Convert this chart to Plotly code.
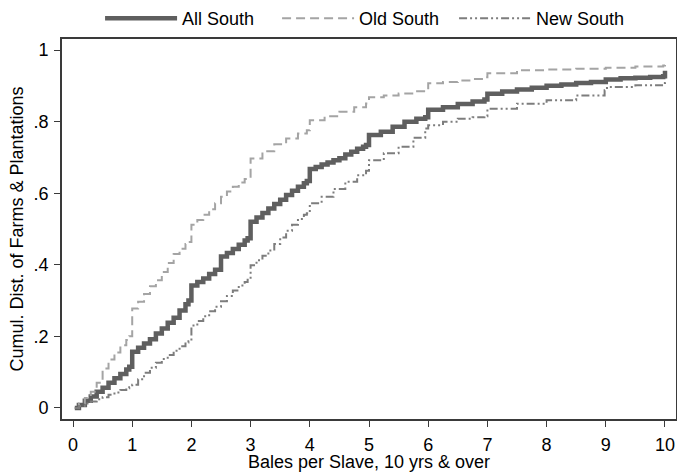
import plotly.graph_objects as go

# ---- data ----
all_x = [0.03, 0.1, 0.2, 0.3, 0.4, 0.5, 0.6, 0.7, 0.8, 0.9, 0.95,
         1.0, 1.1, 1.2, 1.3, 1.4, 1.5, 1.6, 1.7, 1.8, 1.9, 1.95,
         2.0, 2.1, 2.2, 2.3, 2.4, 2.5, 2.6, 2.7, 2.8, 2.9, 2.95,
         3.0, 3.1, 3.2, 3.3, 3.4, 3.5, 3.6, 3.7, 3.8, 3.9, 3.95,
         4.0, 4.1, 4.2, 4.3, 4.4, 4.5, 4.6, 4.7, 4.8, 4.9, 4.95,
         5.0, 5.2, 5.4, 5.6, 5.8, 5.95,
         6.0, 6.25, 6.5, 6.75, 6.95,
         7.0, 7.25, 7.5, 7.75, 8.0, 8.25, 8.5, 8.75, 9.0, 9.25, 9.5, 9.75, 9.97, 10.0]
all_y = [0.0, 0.008, 0.02, 0.032, 0.045, 0.056, 0.07, 0.083, 0.095, 0.107, 0.115,
         0.157, 0.168, 0.18, 0.192, 0.208, 0.222, 0.238, 0.252, 0.272, 0.29, 0.30,
         0.342, 0.352, 0.362, 0.374, 0.386, 0.423, 0.433, 0.444, 0.456, 0.468, 0.474,
         0.52, 0.532, 0.545, 0.557, 0.57, 0.582, 0.595, 0.607, 0.618, 0.628, 0.634,
         0.668, 0.673, 0.68, 0.686, 0.692, 0.698, 0.708, 0.716, 0.724, 0.73, 0.735,
         0.763, 0.772, 0.786, 0.8, 0.808, 0.812,
         0.833, 0.84, 0.849, 0.856, 0.862,
         0.878, 0.884, 0.89, 0.895, 0.9, 0.904, 0.908, 0.911, 0.918, 0.921, 0.923, 0.925, 0.927, 0.942]

old_x = [0.03, 0.1, 0.2, 0.3, 0.4, 0.5, 0.6, 0.7, 0.8, 0.9, 0.95,
         1.0, 1.1, 1.2, 1.3, 1.4, 1.5, 1.6, 1.7, 1.8, 1.9, 1.95,
         2.0, 2.1, 2.2, 2.3, 2.4, 2.5, 2.6, 2.7, 2.8, 2.9, 2.95,
         3.0, 3.2, 3.4, 3.6, 3.8, 3.95,
         4.0, 4.25, 4.5, 4.75, 4.95,
         5.0, 5.25, 5.5, 5.75, 5.95,
         6.0, 6.25, 6.5, 6.75, 6.95,
         7.0, 7.5, 8.0, 8.5, 9.0, 9.5, 9.97, 10.0]
old_y = [0.0, 0.012, 0.028, 0.045, 0.07, 0.11, 0.135, 0.155, 0.175, 0.19, 0.2,
         0.278, 0.297, 0.318, 0.34, 0.357, 0.38, 0.405, 0.43, 0.445, 0.458, 0.464,
         0.512, 0.525, 0.54, 0.555, 0.572, 0.59, 0.605, 0.618, 0.63, 0.64, 0.646,
         0.697, 0.717, 0.737, 0.753, 0.767, 0.776,
         0.804, 0.815, 0.828, 0.84, 0.851,
         0.868, 0.873, 0.879, 0.885, 0.889,
         0.907, 0.911, 0.915, 0.919, 0.924,
         0.935, 0.944, 0.946, 0.948, 0.951, 0.954, 0.957, 0.962]

new_x = [0.03, 0.1, 0.2, 0.3, 0.4, 0.5, 0.6, 0.7, 0.8, 0.9, 0.95,
         1.0, 1.1, 1.2, 1.3, 1.4, 1.5, 1.6, 1.7, 1.8, 1.9, 1.95,
         2.0, 2.1, 2.2, 2.3, 2.4, 2.5, 2.6, 2.7, 2.8, 2.9, 2.95,
         3.0, 3.1, 3.2, 3.3, 3.4, 3.5, 3.6, 3.7, 3.8, 3.9, 3.95,
         4.0, 4.2, 4.4, 4.6, 4.8, 4.95,
         5.0, 5.25, 5.5, 5.75, 5.95,
         6.0, 6.25, 6.5, 6.75, 6.95,
         7.0, 7.5, 8.0, 8.5, 8.98, 9.02, 9.5, 9.97, 10.0]
new_y = [0.0, 0.005, 0.012, 0.018, 0.024, 0.03, 0.037, 0.043, 0.05, 0.055, 0.058,
         0.065, 0.08, 0.098, 0.112, 0.126, 0.137, 0.148, 0.16, 0.172, 0.183, 0.186,
         0.23, 0.243, 0.256, 0.27, 0.283, 0.298, 0.313, 0.328, 0.342, 0.352, 0.358,
         0.399, 0.413, 0.425, 0.44, 0.458, 0.476, 0.495, 0.512, 0.528, 0.54, 0.544,
         0.572, 0.59, 0.612, 0.632, 0.65, 0.663,
         0.692, 0.712, 0.73, 0.755, 0.781,
         0.79, 0.8, 0.808, 0.812, 0.815,
         0.836, 0.85, 0.86, 0.873, 0.888, 0.897, 0.902, 0.908, 0.91]

x_ticks = [0, 1, 2, 3, 4, 5, 6, 7, 8, 9, 10]
y_ticks = [0, 0.2, 0.4, 0.6, 0.8, 1]
y_tick_labels = ["0", ".2", ".4", ".6", ".8", "1"]

FONT = "Liberation Sans, Arial, sans-serif"
FS = 18
AXC = "#3a3a3a"

fig = go.Figure()
fig.add_trace(go.Scatter(x=all_x, y=all_y, mode="lines", name="All South",
                         line=dict(color="#5f5f5f", width=4.5, shape="hv")))
fig.add_trace(go.Scatter(x=old_x, y=old_y, mode="lines", name="Old South",
                         line=dict(color="#a4a4a4", width=2, shape="hv", dash="9px,5px")))
fig.add_trace(go.Scatter(x=new_x, y=new_y, mode="lines", name="New South",
                         line=dict(color="#7d7d7d", width=2, shape="hv",
                                   dash="8px,3px,2px,3px,2px,3px")))

fig.update_layout(
    width=677, height=472,
    margin=dict(l=62, r=1, t=39, b=53, autoexpand=False),
    paper_bgcolor="white", plot_bgcolor="white",
    font=dict(family=FONT, size=FS, color="black"),
    showlegend=True,
    legend=dict(orientation="h", x=0.062, xanchor="left", y=1.005, yanchor="bottom",
                itemwidth=72, entrywidth=90, font=dict(size=FS),
                bgcolor="rgba(0,0,0,0)", tracegroupgap=0),
    xaxis=dict(range=[-0.186, 10.186], tickvals=x_ticks, ticks="outside", ticklen=6,
               tickwidth=1.3, tickcolor=AXC, showgrid=False, zeroline=False,
               showline=True, linecolor=AXC, linewidth=1.8, mirror=True,
               automargin=False, ticklabelstandoff=2,
               title=dict(text="Bales per Slave, 10 yrs & over", standoff=0,
                          font=dict(size=FS)),
               tickfont=dict(size=FS)),
    yaxis=dict(range=[-0.031, 1.031], tickvals=y_ticks, ticktext=y_tick_labels,
               ticks="outside", ticklen=6, tickwidth=1.3, tickcolor=AXC,
               showgrid=False, zeroline=False, showline=True, linecolor=AXC,
               linewidth=1.8, mirror=True, automargin=False, ticklabelstandoff=2,
               title=dict(text="Cumul. Dist. of Farms & Plantations", standoff=5,
                          font=dict(size=FS)),
               tickfont=dict(size=FS)),
)

fig.write_html("out.html", config={"displayModeBar": False},
               post_script="document.body.style.margin='0';")
